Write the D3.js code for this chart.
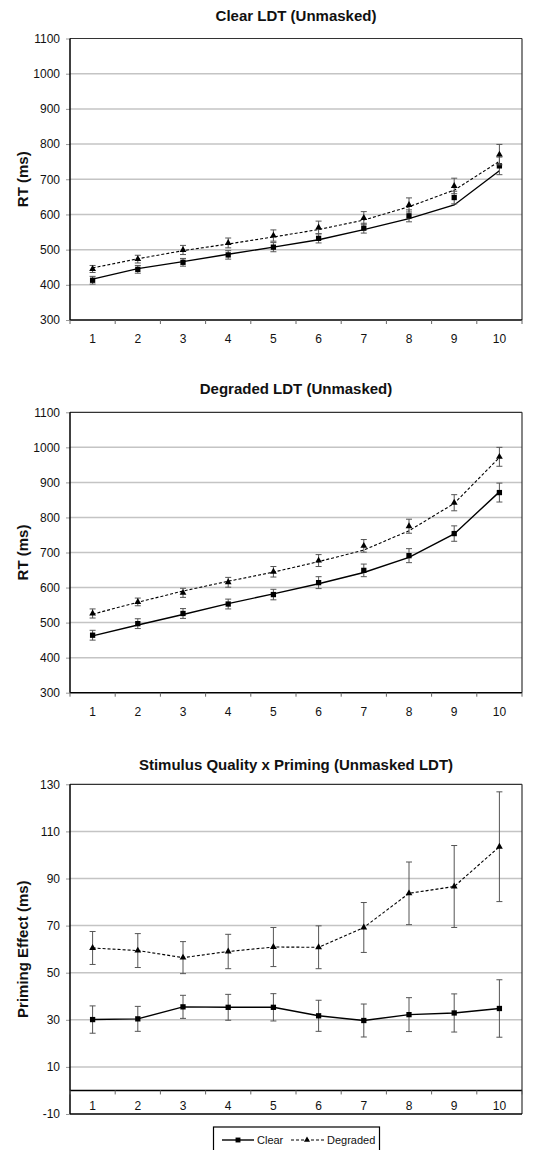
<!DOCTYPE html>
<html>
<head>
<meta charset="utf-8">
<script src="https://cdn.jsdelivr.net/npm/d3@7/dist/d3.min.js"></script>
<style>
  html, body { margin: 0; padding: 0; background: #fff; }
  svg { display: block; font-family: "Liberation Sans", Arial, sans-serif; }
</style>
</head>
<body>
<svg id="chart" width="537" height="1150"></svg>
<script>
// ---------- DATA ----------
const categories = ["1","2","3","4","5","6","7","8","9","10"];
const seriesNames = ["Clear", "Degraded"];

// Panel 1: Clear LDT (Unmasked) — marker means, error (±), and plotted line values
const clearLDT_clear    = [413, 444, 464, 485, 507, 532, 561, 596, 648, 738];
const clearLDT_clearErr = [11, 11, 11, 12, 13, 13, 14, 17, 18, 25];
const clearLDT_clearLine= [416, 446, 466, 487, 507, 528, 557, 588, 627, 724];
const clearLDT_degr     = [445, 473, 499, 519, 540, 563, 590, 627, 681, 770];
const clearLDT_degrErr  = [10, 11, 13, 14, 16, 18, 18, 20, 22, 29];
const clearLDT_degrLine = [448, 474, 497, 516, 536, 557, 584, 622, 669, 751];

// Panel 2: Degraded LDT (Unmasked)
const degLDT_clear      = [464, 497, 526, 553, 580, 614, 649, 691, 754, 871];
const degLDT_clearErr   = [14, 14, 14, 14, 15, 17, 18, 20, 22, 27];
const degLDT_clearLine  = [462, 493, 523, 554, 582, 611, 643, 686, 753, 873];
const degLDT_degr       = [526, 559, 585, 615, 645, 677, 719, 775, 842, 973];
const degLDT_degrErr    = [13, 11, 13, 14, 15, 17, 18, 20, 23, 27];
const degLDT_degrLine   = [524, 558, 590, 618, 644, 674, 707, 762, 840, 971];

// Panel 3: Stimulus Quality x Priming (Unmasked LDT)
const priming_clear     = [30.1, 30.4, 35.5, 35.3, 35.3, 31.7, 29.7, 32.2, 32.9, 34.8];
const priming_clearErr  = [5.8, 5.3, 4.9, 5.5, 5.8, 6.6, 7.0, 7.2, 8.1, 12.2];
const priming_degr      = [60.5, 59.4, 56.4, 59.0, 60.9, 60.8, 69.2, 83.7, 86.6, 103.5];
const priming_degrErr   = [7.0, 7.2, 6.8, 7.3, 8.3, 9.1, 10.6, 13.3, 17.4, 23.3];

const rtTicks = [300, 400, 500, 600, 700, 800, 900, 1000, 1100];
const primingTicks = [-10, 10, 30, 50, 70, 90, 110, 130];

const titles = ["Clear LDT (Unmasked)", "Degraded LDT (Unmasked)", "Stimulus Quality x Priming (Unmasked LDT)"];
const yLabels = ["RT (ms)", "RT (ms)", "Priming Effect (ms)"];

// ---------- DRAW ----------
const svg = d3.select("#chart");
const left = 70, right = 522;

function panel(cfg) {
  const g = svg.append("g");
  const x = d3.scaleBand().domain(categories).range([left, right]).padding(0);
  const cx = c => x(c) + x.bandwidth() / 2;
  const y = d3.scaleLinear().domain(cfg.domain).range([cfg.bottom, cfg.top]);

  // gridlines
  g.append("g").selectAll("line").data(cfg.ticks.filter(t => t !== cfg.domain[0] && t !== cfg.domain[1]))
    .join("line")
    .attr("x1", left).attr("x2", right)
    .attr("y1", d => y(d)).attr("y2", d => y(d))
    .attr("stroke", "#c4c4c4").attr("stroke-width", 1.5);

  // y axis
  const ya = g.append("g").attr("transform", `translate(${left},0)`)
    .call(d3.axisLeft(y).tickValues(cfg.ticks).tickSize(4).tickPadding(6).tickFormat(d => String(d)));
  ya.select(".domain").remove();
  ya.selectAll(".tick line").attr("stroke", "#999");
  ya.selectAll(".tick text").attr("font-size", 12).attr("fill", "#111")
    .attr("font-family", "Liberation Sans, Arial, sans-serif");

  // frame
  g.append("line").attr("x1", left).attr("x2", right).attr("y1", cfg.top).attr("y2", cfg.top)
    .attr("stroke", "#333").attr("stroke-width", 1.2);
  g.append("line").attr("x1", right).attr("x2", right).attr("y1", cfg.top).attr("y2", cfg.bottom)
    .attr("stroke", "#333").attr("stroke-width", 1.2);
  g.append("line").attr("x1", left).attr("x2", left).attr("y1", cfg.top).attr("y2", cfg.bottom)
    .attr("stroke", "#000").attr("stroke-width", 1.5);
  g.append("line").attr("x1", left).attr("x2", right).attr("y1", cfg.bottom).attr("y2", cfg.bottom)
    .attr("stroke", "#000").attr("stroke-width", 1.5);

  // x axis (at baseline value)
  const axisY = y(cfg.xAxisAt);
  if (cfg.xAxisAt !== cfg.domain[0]) {
    g.append("line").attr("x1", left).attr("x2", right).attr("y1", axisY).attr("y2", axisY)
      .attr("stroke", "#000").attr("stroke-width", 1.5);
  }
  const bounds = categories.map(c => x(c)).concat([right]);
  g.append("g").selectAll("line").data(bounds).join("line")
    .attr("x1", d => d).attr("x2", d => d)
    .attr("y1", axisY).attr("y2", axisY + 4)
    .attr("stroke", "#666").attr("stroke-width", 1);
  g.append("g").selectAll("text").data(categories).join("text")
    .attr("x", d => cx(d)).attr("y", cfg.labelY)
    .attr("text-anchor", "middle").attr("font-size", 12).attr("fill", "#111")
    .text(d => d);

  // title
  g.append("text").attr("x", (left + right) / 2).attr("y", cfg.titleY)
    .attr("text-anchor", "middle").attr("font-size", 15).attr("font-weight", "bold").attr("fill", "#111")
    .text(cfg.title);
  // y label
  g.append("text").attr("transform", `translate(28,${(cfg.top + cfg.bottom) / 2}) rotate(-90)`)
    .attr("text-anchor", "middle").attr("font-size", 15).attr("font-weight", "bold").attr("fill", "#111")
    .text(cfg.yLabel);

  cfg.series.forEach(s => {
    const lineVals = s.line || s.values;
    // line
    g.append("path")
      .datum(categories.map((c, i) => [cx(c), y(lineVals[i])]))
      .attr("d", d3.line())
      .attr("fill", "none").attr("stroke", "#000")
      .attr("stroke-width", s.dashed ? 1.1 : 1.4)
      .attr("stroke-dasharray", s.dashed ? "3,2" : null);
    // error bars
    const eb = g.append("g").attr("stroke", "#555").attr("stroke-width", 1);
    categories.forEach((c, i) => {
      const v = s.values[i], e = s.err[i];
      eb.append("line").attr("x1", cx(c)).attr("x2", cx(c)).attr("y1", y(v - e)).attr("y2", y(v + e));
      eb.append("line").attr("x1", cx(c) - 3).attr("x2", cx(c) + 3).attr("y1", y(v + e)).attr("y2", y(v + e));
      eb.append("line").attr("x1", cx(c) - 3).attr("x2", cx(c) + 3).attr("y1", y(v - e)).attr("y2", y(v - e));
    });
    // markers
    const sym = d3.symbol().type(s.dashed ? d3.symbolTriangle : d3.symbolSquare).size(s.dashed ? 20 : 28);
    g.append("g").selectAll("path").data(categories).join("path")
      .attr("transform", (c, i) => `translate(${cx(c)},${y(s.values[i])})`)
      .attr("d", sym).attr("fill", "#000");
  });
}

panel({
  title: titles[0], yLabel: yLabels[0], domain: [300, 1100], ticks: rtTicks,
  top: 38.5, bottom: 320, xAxisAt: 300, labelY: 343, titleY: 21,
  series: [
    { values: clearLDT_clear, err: clearLDT_clearErr, line: clearLDT_clearLine, dashed: false },
    { values: clearLDT_degr, err: clearLDT_degrErr, line: clearLDT_degrLine, dashed: true }
  ]
});
panel({
  title: titles[1], yLabel: yLabels[1], domain: [300, 1100], ticks: rtTicks,
  top: 412.3, bottom: 692.7, xAxisAt: 300, labelY: 716, titleY: 394,
  series: [
    { values: degLDT_clear, err: degLDT_clearErr, line: degLDT_clearLine, dashed: false },
    { values: degLDT_degr, err: degLDT_degrErr, line: degLDT_degrLine, dashed: true }
  ]
});
panel({
  title: titles[2], yLabel: yLabels[2], domain: [-10, 130], ticks: primingTicks,
  top: 784.3, bottom: 1114, xAxisAt: 0, labelY: 1110, titleY: 770,
  series: [
    { values: priming_clear, err: priming_clearErr, dashed: false },
    { values: priming_degr, err: priming_degrErr, dashed: true }
  ]
});

// legend
const lg = svg.append("g");
lg.append("rect").attr("x", 213.5).attr("y", 1127).attr("width", 166).attr("height", 40)
  .attr("fill", "#fff").attr("stroke", "#000").attr("stroke-width", 1.2);
const ly = 1140;
lg.append("line").attr("x1", 222).attr("x2", 254).attr("y1", ly).attr("y2", ly)
  .attr("stroke", "#000").attr("stroke-width", 1.4);
lg.append("path").attr("transform", `translate(238,${ly})`).attr("d", d3.symbol().type(d3.symbolSquare).size(24)).attr("fill", "#000");
lg.append("text").attr("x", 257).attr("y", ly + 4).attr("font-size", 11).attr("fill", "#111").text(seriesNames[0]);
lg.append("line").attr("x1", 291).attr("x2", 325).attr("y1", ly).attr("y2", ly)
  .attr("stroke", "#000").attr("stroke-width", 1.1).attr("stroke-dasharray", "3,2");
lg.append("path").attr("transform", `translate(307,${ly})`).attr("d", d3.symbol().type(d3.symbolTriangle).size(16)).attr("fill", "#000");
lg.append("text").attr("x", 327).attr("y", ly + 4).attr("font-size", 11).attr("fill", "#111").text(seriesNames[1]);
</script>
</body>
</html>
